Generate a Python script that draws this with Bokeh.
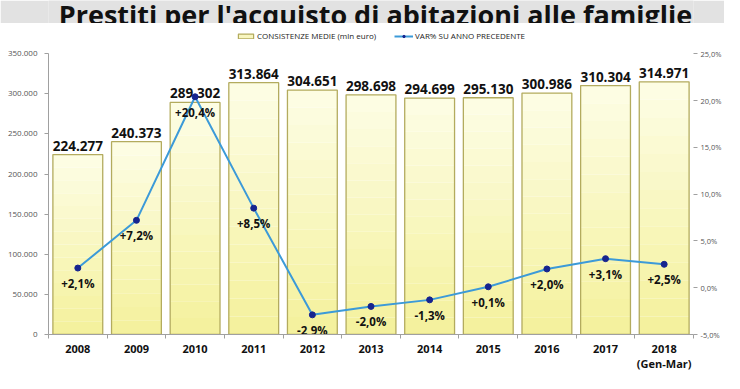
from bokeh.plotting import figure
from bokeh.models import (Range1d, LinearAxis, FixedTicker, ColumnDataSource, Legend, LegendItem)
from bokeh.layouts import column
from bokeh.core.properties import value
from bokeh.embed import file_html
from bokeh.resources import INLINE

# ---- data ----
title_text = "Prestiti per l'acquisto di abitazioni alle famiglie"
years = ["2008", "2009", "2010", "2011", "2012", "2013", "2014", "2015", "2016", "2017", "2018\n(Gen-Mar)"]
consistenze = [224277, 240373, 289302, 313864, 304651, 298698, 294699, 295130, 300986, 310304, 314971]
var_pct = [2.1, 7.2, 20.4, 8.5, -2.9, -2.0, -1.3, 0.1, 2.0, 3.1, 2.5]
left_ticks = [0, 50000, 100000, 150000, 200000, 250000, 300000, 350000]
left_tick_labels = ["0", "50.000", "100.000", "150.000", "200.000", "250.000", "300.000", "350.000"]
right_ticks = [-5, 0, 5, 10, 15, 20, 25]
right_tick_labels = ["-5,0%", "0,0%", "5,0%", "10,0%", "15,0%", "20,0%", "25,0%"]
legend_bar = "CONSISTENZE MEDIE (mln euro)"
legend_line = "VAR% SU ANNO PRECEDENTE"

W = 724
FONT = "Open Sans"
Y_END = 387655
PCT_END = 28.228

# ---- title band ----
t = figure(width=W, height=23, x_range=Range1d(0, W), y_range=Range1d(0, 23),
           output_backend="svg", toolbar_location=None, min_border=0)
t.axis.visible = False
t.grid.visible = False
t.outline_line_color = None
t.background_fill_color = "#e2e2e2"
t.border_fill_color = "#e2e2e2"
t.text(x=[367], y=[9], text=[title_text], text_font=value(FONT), text_font_style="bold",
       text_font_size="27px", text_color="#111111", text_align="center", text_baseline="alphabetic")

# ---- main chart ----
xs = list(range(1, len(years) + 1))
val_labels = [f"{v:,}".replace(",", ".") for v in consistenze]
pct_labels = [f"{v:+.1f}%".replace(".", ",") for v in var_pct]

src = ColumnDataSource(dict(x=xs, top=consistenze, vlab=val_labels, pct=var_pct, plab=pct_labels))

p = figure(width=W, height=350, x_range=Range1d(0.5, len(years) + 0.5), y_range=Range1d(0, Y_END),
           output_backend="svg", toolbar_location=None,
           min_border_left=48, min_border_right=28, min_border_top=0, min_border_bottom=36)
p.extra_y_ranges = {"pct": Range1d(-5, PCT_END)}
p.grid.visible = False
p.outline_line_color = None
p.background_fill_color = "white"
p.border_fill_color = "white"

# gradient bars (bands from light top to yellow bottom)
N = 14
top_c = (253, 253, 230)
bot_c = (244, 241, 155)
for k in range(N):
    f = (k + 0.5) / N
    c = tuple(int(round(bot_c[i] + (top_c[i] - bot_c[i]) * f)) for i in range(3))
    col = "#%02x%02x%02x" % c
    p.vbar(x=xs, bottom=[v * k / N for v in consistenze], top=[v * (k + 1) / N for v in consistenze],
           width=0.85, fill_color=col, line_color=None)
p.vbar(x="x", top="top", width=0.85, source=src, fill_alpha=0.0,
       line_color="#b3ab5e", line_width=1.3)

# legend proxy for bars
bar_leg = p.vbar(x=[0], top=[0], width=0, fill_color="#f8f6c0", line_color="#b3ab5e", line_width=1.2)

p.text(x="x", y="top", text="vlab", source=src, text_font=value(FONT), text_font_style="bold",
       text_font_size="13.5px", text_color="#111111", text_align="center", text_baseline="bottom",
       y_offset=-4)

ln = p.line(x="x", y="pct", source=src, y_range_name="pct", line_color="#3c9ad8", line_width=2)
sc = p.scatter(x="x", y="pct", source=src, y_range_name="pct", size=6, fill_color="#16248f",
               line_color="#16248f")
p.text(x="x", y="pct", text="plab", source=src, y_range_name="pct", text_font=value(FONT),
       text_font_style="bold", text_font_size="11.5px", text_color="#111111", text_align="center",
       text_baseline="top", y_offset=8)

# axes
p.yaxis.ticker = FixedTicker(ticks=left_ticks)
p.yaxis.major_label_overrides = dict(zip(left_ticks, left_tick_labels))
p.yaxis.bounds = (0, 350000)
p.yaxis.axis_line_color = "#a0a0a0"
p.yaxis.major_tick_line_color = "#a0a0a0"
p.yaxis.major_tick_out = 4
p.yaxis.major_tick_in = 0
p.yaxis.minor_tick_line_color = None
p.yaxis.major_label_standoff = 7
p.yaxis.major_label_text_font = FONT
p.yaxis.major_label_text_font_size = "8px"
p.yaxis.major_label_text_color = "#555555"

ry = LinearAxis(y_range_name="pct", ticker=FixedTicker(ticks=right_ticks), bounds=(-5, 25))
ry.major_label_overrides = dict(zip(right_ticks, right_tick_labels))
ry.axis_line_color = None
ry.major_tick_line_color = "#a0a0a0"
ry.major_tick_out = 4
ry.major_tick_in = 0
ry.minor_tick_line_color = None
ry.major_label_standoff = 3
ry.major_label_text_font = FONT
ry.major_label_text_font_size = "7.5px"
ry.major_label_text_color = "#555555"
p.add_layout(ry, "right")

boundaries = [x - 0.5 for x in xs] + [xs[-1] + 0.5]
p.xaxis.ticker = FixedTicker(ticks=xs, minor_ticks=boundaries)
p.xaxis.major_label_overrides = dict(zip(xs, years))
p.xaxis.axis_line_color = "#a0a0a0"
p.xaxis.major_tick_line_color = None
p.xaxis.major_tick_out = 0
p.xaxis.major_tick_in = 0
p.xaxis.minor_tick_line_color = "#a0a0a0"
p.xaxis.minor_tick_out = 4
p.xaxis.minor_tick_in = 0
p.xaxis.major_label_standoff = 2
p.xaxis.major_label_text_font = FONT
p.xaxis.major_label_text_font_style = "bold"
p.xaxis.major_label_text_font_size = "11px"
p.xaxis.major_label_text_line_height = 1.0
p.xaxis.major_label_text_color = "#111111"

legend = Legend(items=[LegendItem(label=legend_bar, renderers=[bar_leg]),
                       LegendItem(label=legend_line, renderers=[ln, sc])],
                orientation="horizontal", location=(188, 293), padding=0, margin=0, spacing=18,
                glyph_width=19, glyph_height=6, label_height=10, label_standoff=2,
                label_text_font=FONT, label_text_font_size="8px", label_text_color="#222222",
                border_line_color=None, background_fill_alpha=0.0)
p.add_layout(legend)

layout = column(t, p, spacing=0)
open("out.html", "w").write(file_html(layout, INLINE))
